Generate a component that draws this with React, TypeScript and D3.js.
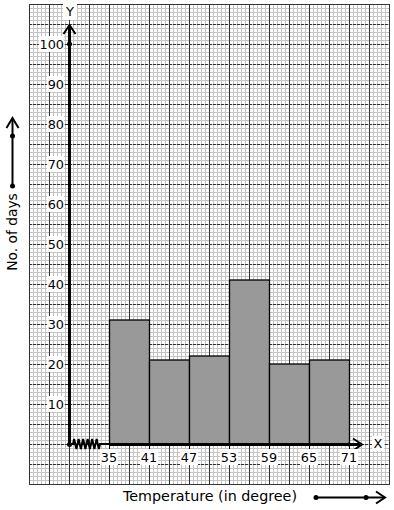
import React from "react";
import * as d3 from "d3";

const classes = [35, 41, 47, 53, 59, 65];
const classEnds = [41, 47, 53, 59, 65, 71];
const days = [31, 21, 22, 41, 20, 21];
const xTicks = [35, 41, 47, 53, 59, 65, 71];
const yTicks = [10, 20, 30, 40, 50, 60, 70, 80, 90, 100];

const W = 394, H = 510;
const GX0 = 29, GX1 = 389, GY0 = 4, GY1 = 484;
const OX = 69, OY = 444;

export default function App() {
  const x = d3.scaleLinear().domain([35, 71]).range([109, 349]);
  const y = d3.scaleLinear().domain([0, 100]).range([OY, 44]);
  const font = "DejaVu Sans, sans-serif";

  const minorV: number[] = [];
  for (let v = GX0; v <= GX1; v += 4) minorV.push(v);
  const minorH: number[] = [];
  for (let v = GY0; v <= GY1; v += 4) minorH.push(v);
  const majorV: number[] = [];
  for (let v = GX0; v <= GX1; v += 20) majorV.push(v);
  const majorH: number[] = [];
  for (let v = GY0; v <= GY1; v += 20) majorH.push(v);

  const zz: [number, number][] = [[OX, OY], [73, OY]];
  const n = 6;
  for (let i = 0; i < n; i++) {
    const a = 73 + (i * 27) / n;
    zz.push([a + 27 / n / 4, OY - 5]);
    zz.push([a + (3 * 27) / n / 4, OY + 5]);
  }
  zz.push([100, OY]);
  zz.push([110, OY]);
  const line = d3.line();

  return (
    <svg width={W} height={H} style={{ position: "absolute", left: 0, top: 0, background: "#fff" }}>
      <rect x={0} y={0} width={W} height={H} fill="#fff" />
      {minorV.map((v) => (
        <line key={"mv" + v} x1={v + 0.5} x2={v + 0.5} y1={GY0} y2={GY1} stroke="#c4c4c4" strokeWidth={1} />
      ))}
      {minorH.map((v) => (
        <line key={"mh" + v} x1={GX0} x2={GX1} y1={v + 0.5} y2={v + 0.5} stroke="#c4c4c4" strokeWidth={1} />
      ))}
      {majorH.map((v) => (
        <line key={"Mh" + v} x1={GX0} x2={GX1} y1={v + 0.5} y2={v + 0.5} stroke="#333" strokeWidth={1} strokeDasharray="3,1" />
      ))}
      {majorV.map((v) => (
        <line key={"Mv" + v} x1={v + 0.5} x2={v + 0.5} y1={GY0} y2={GY1} stroke="#333" strokeWidth={1} />
      ))}
      <rect x={GX0 + 0.5} y={GY0 + 0.5} width={GX1 - GX0} height={GY1 - GY0} fill="none" stroke="#333" />

      {classes.map((c, i) => (
        <rect
          key={c}
          x={x(c) + 0.5}
          y={y(days[i])}
          width={x(classEnds[i]) - x(c)}
          height={y(0) - y(days[i])}
          fill="#999"
          stroke="#000"
          strokeWidth={1.3}
        />
      ))}

      <line x1={OX + 0.5} x2={OX + 0.5} y1={OY} y2={26} stroke="#000" strokeWidth={3} />
      <path d={`M${OX - 5.5},${34} L${OX + 0.5},${25} L${OX + 6.5},${34}`} fill="none" stroke="#000" strokeWidth={2} />
      <circle cx={OX + 0.5} cy={y(100)} r={2.5} fill="#000" />
      <rect x={63} y={4} width={14} height={16} fill="#fff" />
      <text x={OX + 1} y={16} fontFamily={font} fontSize={13} textAnchor="middle">Y</text>

      <line x1={110} x2={360} y1={OY + 0.5} y2={OY + 0.5} stroke="#000" strokeWidth={3} />
      <path d={`M${353},${438.5} L${362},${444.5} L${353},${450.5}`} fill="none" stroke="#000" strokeWidth={2} />
      <path d={line(zz) || ""} fill="none" stroke="#000" strokeWidth={2} />
      <circle cx={OX + 0.5} cy={OY + 0.5} r={2.5} fill="#000" />
      <circle cx={x(71)} cy={OY + 0.5} r={2} fill="#000" />
      <rect x={372} y={436} width={12} height={15} fill="#fff" />
      <text x={378} y={448} fontFamily={font} fontSize={13} textAnchor="middle">X</text>

      {yTicks.map((t) => (
        <g key={"yt" + t}>
          <rect x={t === 100 ? 39 : 47} y={y(t) - 8} width={t === 100 ? 25 : 17} height={16} fill="#fff" />
          <text x={64} y={y(t) + 5} fontFamily={font} fontSize={12.8} textAnchor="end" fill="#000">{t}</text>
        </g>
      ))}
      {xTicks.map((t) => (
        <g key={"xt" + t}>
          <line x1={x(t) + 0.5} x2={x(t) + 0.5} y1={OY} y2={OY + 6} stroke="#000" strokeWidth={1} />
          <rect x={x(t) - 9} y={449} width={18} height={16} fill="#fff" />
          <text x={x(t)} y={462} fontFamily={font} fontSize={12.8} textAnchor="middle" fill="#000">{t}</text>
        </g>
      ))}

      <text transform={`translate(17,232) rotate(-90)`} fontFamily={font} fontSize={13.8} textAnchor="middle">No. of days</text>
      <line x1={12.5} x2={12.5} y1={186} y2={120} stroke="#000" strokeWidth={2} />
      <path d="M6.5,128 L12.5,118 L18.5,128" fill="none" stroke="#000" strokeWidth={2} />
      <circle cx={12.5} cy={186} r={2.5} fill="#000" />
      <circle cx={12.5} cy={136} r={2.5} fill="#000" />

      <text x={210} y={501} fontFamily={font} fontSize={14.3} textAnchor="middle">Temperature (in degree)</text>
      <line x1={316} x2={384} y1={497.5} y2={497.5} stroke="#000" strokeWidth={2} />
      <path d="M376,491.5 L385,497.5 L376,503.5" fill="none" stroke="#000" strokeWidth={2} />
      <circle cx={316} cy={497.5} r={2.5} fill="#000" />
      <circle cx={366} cy={497.5} r={2.5} fill="#000" />
    </svg>
  );
}
